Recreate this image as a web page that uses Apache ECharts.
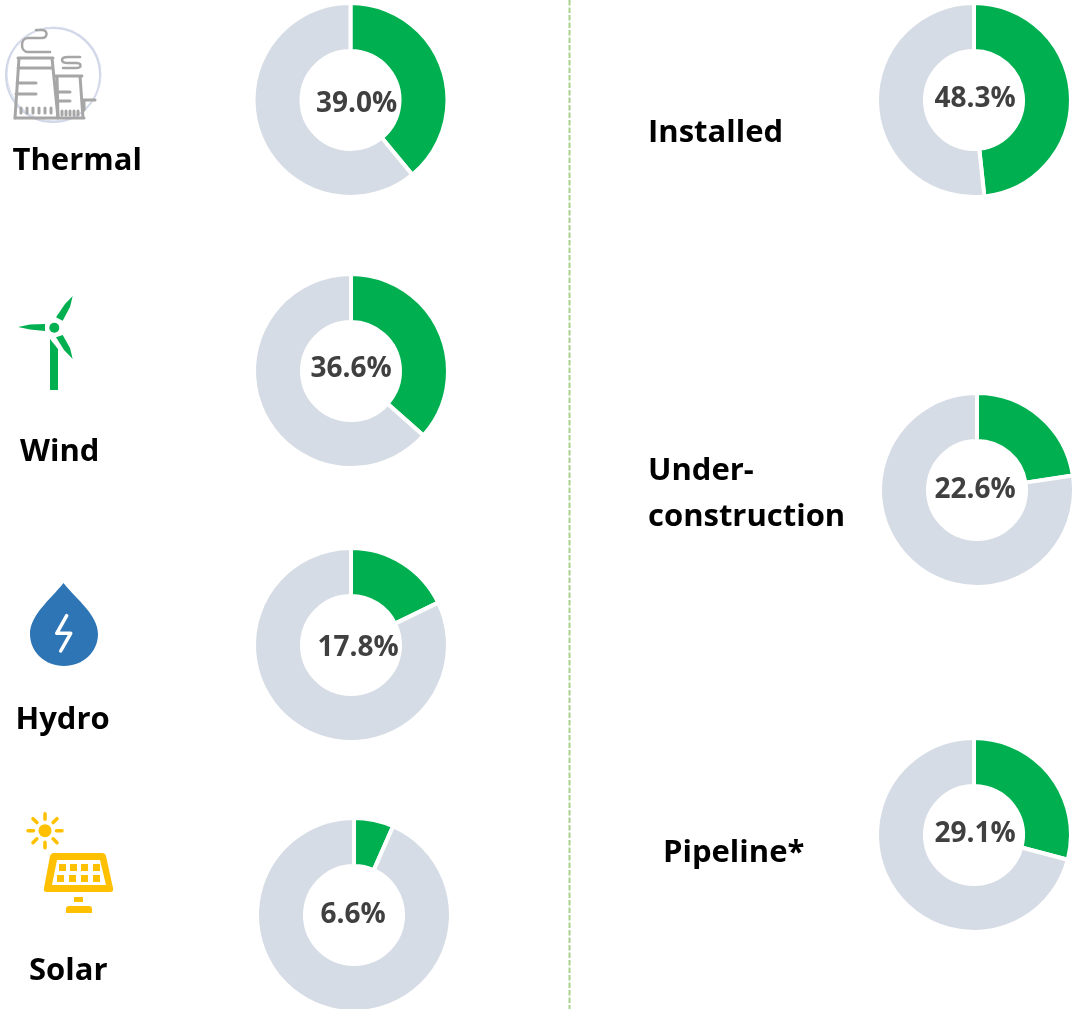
<!DOCTYPE html>
<html>
<head>
<meta charset="utf-8">
<style>
  html, body { margin: 0; padding: 0; background: #fff; }
  #chart { width: 1074px; height: 1009px; }
</style>
<script src="https://cdn.jsdelivr.net/npm/echarts@6/dist/echarts.min.js"></script>
</head>
<body>
<div id="chart"></div>
<script>
const sourceLabels = ['Thermal', 'Wind', 'Hydro', 'Solar'];
const sourceValues = [39.0, 36.6, 17.8, 6.6];
const stageLabels = ['Installed', 'Under-\nconstruction', 'Pipeline*'];
const stageValues = [48.3, 22.6, 29.1];

const GREEN = '#00B050';
const REST = '#D6DCE5';
const FONT = '"Open Sans", sans-serif';

// donut centre and label nudge, left column then right column
const donutPlaces = [
    { c: [350.5, 100], off: [6, 4] },
    { c: [351, 371], off: [0, -2] },
    { c: [351, 645], off: [7, 3] },
    { c: [354, 915], off: [-1, 0] },
    { c: [974, 100], off: [1, -1] },
    { c: [977, 490], off: [-2, 0] },
    { c: [974, 835], off: [1, -1] }
];
const textPlaces = [
    [12.5, 161], [20, 452], [15.5, 720], [29, 971],
    [648, 133], [648, 494], [663, 853]
];

const allLabels = sourceLabels.concat(stageLabels);
const allValues = sourceValues.concat(stageValues);

const series = allValues.map((v, i) => ({
    type: 'pie',
    center: donutPlaces[i].c,
    radius: [49, 97],
    startAngle: 90,
    clockwise: true,
    silent: true,
    animation: false,
    labelLine: { show: false },
    itemStyle: { borderColor: '#fff', borderWidth: 4 },
    label: {
        show: true,
        position: 'center',
        offset: donutPlaces[i].off,
        formatter: v.toFixed(1) + '%',
        fontFamily: FONT,
        fontWeight: 'bold',
        fontSize: 28,
        color: '#404040'
    },
    data: [
        { value: v, itemStyle: { color: GREEN } },
        { value: 100 - v, itemStyle: { color: REST }, label: { show: false } }
    ]
}));

let shapeCount = 0;
function pathEl(d, style) {
    // graphic component has no plain path type, so each icon path gets a registered shape
    const name = 'iconPath' + (shapeCount++);
    echarts.graphic.registerShape(name, echarts.graphic.extendPath(d, {}));
    return { type: name, style: style };
}
function poly(points, fill) {
    return { type: 'polygon', shape: { points: points }, style: { fill: fill } };
}
function stroke(d, color, w) {
    return pathEl(d, { fill: null, stroke: color, lineWidth: w, lineCap: 'round', lineJoin: 'round' });
}
function circle(x, y, r, style) {
    return { type: 'circle', shape: { cx: x, cy: y, r: r }, style: style };
}

const ICON_GREY = '#A6A6A6';
const thermalIcon = [
    circle(53, 75, 47, { fill: '#fff', stroke: '#D0D7E8', lineWidth: 2 }),
    circle(54, 74, 47, { fill: null, stroke: '#D9DEEC', lineWidth: 1 }),
    stroke('M18 58 H53 M19 58 L15 118 M52 58 L58 118 M18 68 H52 M17 83 H36 M16 94 H36', ICON_GREY, 3),
    stroke('M55 76 H82 M57 76 L58 118 M80 76 L83 118 M58 92 H70 M58 101 H70 M15 118 H84 M83 100 H95 M84 100 V110', ICON_GREY, 3),
    stroke('M36 30 H42 C48 30 48 38 42 38 H28 C20 38 20 52 28 52 H50', ICON_GREY, 2.5),
    stroke('M80 57 H68 C60 57 60 63 68 63 H76 C82 63 82 68 76 68 H63', ICON_GREY, 2.5),
    stroke('M21 108 V113 M27 108 V113 M33 108 V113 M39 108 V113 M45 108 V113 M51 108 V113', ICON_GREY, 3),
    stroke('M62 111 V115 M66 111 V115 M70 111 V115 M74 111 V115 M78 111 V115', ICON_GREY, 3)
];

const windIcon = [
    poly([[50, 339], [58, 349], [58, 390], [50, 390]], GREEN),
    circle(54.3, 327.7, 5, { fill: GREEN }),
    poly([[18, 327], [30, 324.5], [45, 324], [45, 331], [30, 329.5]], GREEN),
    poly([[72.7, 296], [70, 307], [62.7, 320.7], [56, 317.3], [65, 304]], GREEN),
    poly([[72.7, 359], [64, 350], [56, 337.3], [62.7, 335], [70, 348]], GREEN)
];

const hydroIcon = [
    pathEl('M63.5 583 C50 600 30 615 30 634 C30 652 45 666 64 666 C83 666 98 652 98 634 C98 615 77 600 63.5 583 Z', { fill: '#2E75B6' }),
    stroke('M66.7 615.7 L56.7 633.3 H70.7 L60.7 651', '#fff', 3.5)
];

const SUN = '#FFC000';
const rays = [];
for (let k = 0; k < 8; k++) {
    const a = k * Math.PI / 4;
    rays.push('M' + (45 + 11.5 * Math.cos(a)) + ' ' + (830.7 + 11.5 * Math.sin(a)) +
        ' L' + (45 + 17 * Math.cos(a)) + ' ' + (830.7 + 17 * Math.sin(a)));
}
const cells = [];
[[59, 864], [70, 864], [81, 864], [93, 864], [57, 875], [69, 875], [81, 875], [93, 875]].forEach(p => {
    cells.push({ type: 'rect', shape: { x: p[0], y: p[1], width: 7, height: 7 }, style: { fill: SUN } });
});
const solarIcon = [
    circle(45, 830.7, 6.5, { fill: SUN }),
    stroke(rays.join(' '), SUN, 3.5),
    pathEl('M54 853 H102 Q105 853 106 856 L113 888 Q114 892 110 892 H47 Q43 892 44 888 L50 856 Q51 853 54 853 Z', { fill: SUN }),
    poly([[57, 860], [100, 860], [106, 885], [52, 885]], '#fff')
].concat(cells, [
    { type: 'rect', shape: { x: 74, y: 897, width: 9, height: 5 }, style: { fill: SUN } },
    { type: 'rect', shape: { x: 66, y: 906, width: 26, height: 7, r: [3, 3, 0, 0] }, style: { fill: SUN } }
]);

const texts = allLabels.map((t, i) => ({
    type: 'text',
    style: {
        text: t,
        x: textPlaces[i][0],
        y: textPlaces[i][1],
        verticalAlign: 'middle',
        align: 'left',
        font: 'bold 31px ' + FONT,
        lineHeight: 46,
        fill: '#000'
    }
}));

const divider = {
    type: 'line',
    shape: { x1: 569.5, y1: 0, x2: 569.5, y2: 1009 },
    style: { stroke: '#A9D18E', lineWidth: 2, lineDash: [5.5, 2] }
};

const myChart = echarts.init(document.getElementById('chart'), null, { renderer: 'canvas' });
myChart.setOption({
    animation: false,
    backgroundColor: '#fff',
    series: series,
    graphic: { elements: [divider].concat(thermalIcon, windIcon, hydroIcon, solarIcon, texts) }
});
</script>
</body>
</html>
